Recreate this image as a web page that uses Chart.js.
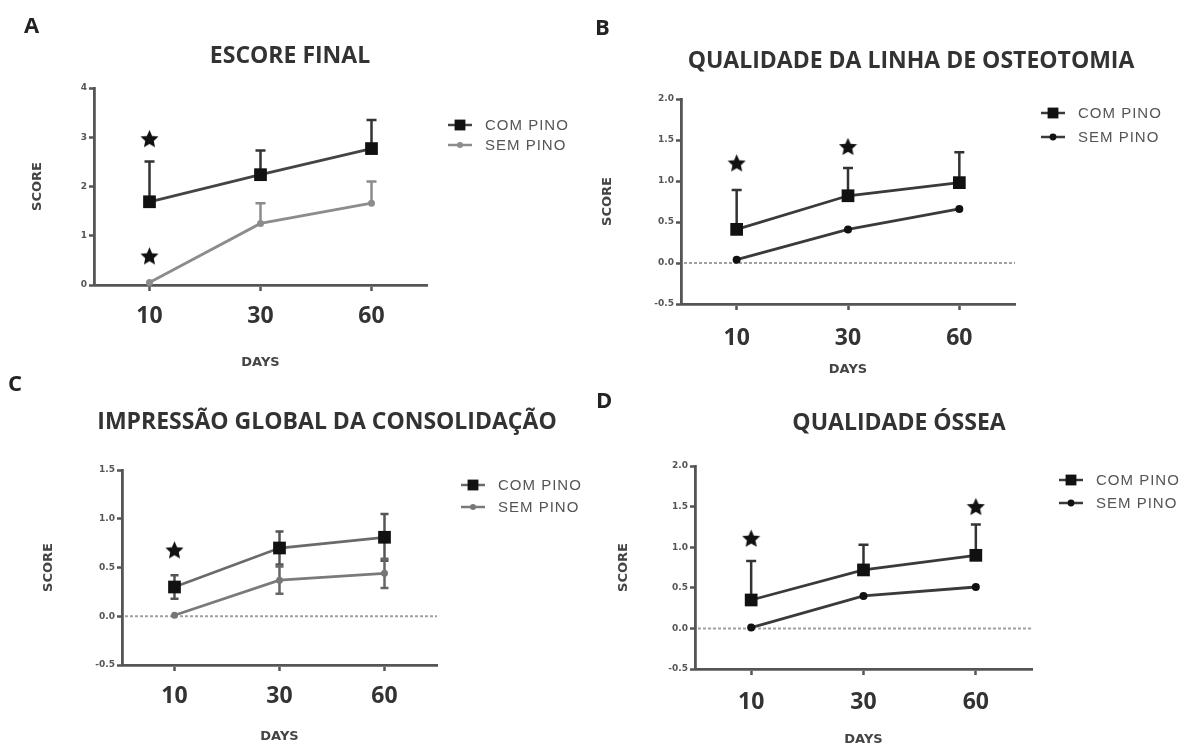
<!DOCTYPE html>
<html>
<head>
<meta charset="utf-8">
<script src="https://cdn.jsdelivr.net/npm/chart.js@4.4.1/dist/chart.umd.min.js"></script>
<style>
  html, body { margin: 0; background: #fff; }
  #wrap { position: relative; width: 1191px; height: 749px; overflow: hidden; }
  #wrap canvas { position: absolute; left: 0; top: 0; }
</style>
</head>
<body>
<div id="wrap">
  <canvas id="cA" width="1191" height="749"></canvas>
  <canvas id="cB" width="1191" height="749"></canvas>
  <canvas id="cC" width="1191" height="749"></canvas>
  <canvas id="cD" width="1191" height="749"></canvas>
</div>
<script>
// dias de avaliação (eixo x)
const days = ['10', '30', '60'];

// A - escore final
const comA = [1.69, 2.24, 2.77];
const comAUp = [0.82, 0.49, 0.58];
const semA = [0.05, 1.25, 1.66];
const semAUp = [0, 0.41, 0.44];
const starsA = [['10', 2.97], ['10', 0.59]];
const ticksA = ['0', '1', '2', '3', '4'];

// B - qualidade da linha de osteotomia
const comB = [0.41, 0.82, 0.98];
const comBUp = [0.48, 0.34, 0.37];
const semB = [0.04, 0.41, 0.66];
const starsB = [['10', 1.22], ['30', 1.42]];
const ticksB = ['-0.5', '0.0', '0.5', '1.0', '1.5', '2.0'];

// C - impressao global da consolidacao (barras para cima e para baixo)
const comC = [0.30, 0.70, 0.81];
const comCErr = [0.12, 0.17, 0.24];
const semC = [0.01, 0.37, 0.44];
const semCErr = [0, 0.14, 0.15];
const starsC = [['10', 0.68]];
const ticksC = ['-0.5', '0.0', '0.5', '1.0', '1.5'];

// D - qualidade ossea
const comD = [0.35, 0.72, 0.90];
const comDUp = [0.48, 0.31, 0.38];
const semD = [0.01, 0.40, 0.51];
const starsD = [['10', 1.11], ['60', 1.50]];
const ticksD = ['-0.5', '0.0', '0.5', '1.0', '1.5', '2.0'];

const seriesNames = ['COM PINO', 'SEM PINO'];

// estrela preenchida usada como pointStyle
let starImage = (size) => {
  const c = document.createElement('canvas');
  c.width = size; c.height = size;
  const g = c.getContext('2d');
  const cx = size / 2, cy = size / 2 + size * 0.04, R = size / 2, r = R * 0.47;
  g.fillStyle = '#111';
  g.beginPath();
  for (let k = 0; k < 10; k++) {
    const ang = -Math.PI / 2 + k * Math.PI / 5;
    const rad = k % 2 ? r : R;
    g.lineTo(cx + rad * Math.cos(ang), cy + rad * Math.sin(ang));
  }
  g.closePath();
  g.fill();
  return c;
};
const star = starImage(19);

const extras = {
  id: 'extras',
  beforeDatasetsDraw(chart, args, o) {
    const {ctx, chartArea: a} = chart;
    const y = chart.scales.y;
    if (o.zeroLine) {
      const py = y.getPixelForValue(0);
      ctx.save();
      ctx.strokeStyle = '#a0a0a0';
      ctx.lineWidth = 2;
      ctx.setLineDash([3, 2]);
      ctx.beginPath();
      ctx.moveTo(a.left + 3, py);
      ctx.lineTo(a.right, py);
      ctx.stroke();
      ctx.restore();
    }
    chart.data.datasets.forEach((ds, di) => {
      if (!ds.errUp) return;
      const meta = chart.getDatasetMeta(di);
      ctx.save();
      ctx.strokeStyle = ds.errColor;
      ctx.lineWidth = 2.5;
      meta.data.forEach((pt, i) => {
        const v = ds.data[i];
        const up = ds.errUp[i] || 0;
        const dn = ds.errDown ? ds.errDown[i] : 0;
        if (!up && !dn) return;
        const y1 = y.getPixelForValue(v + up);
        const y2 = y.getPixelForValue(v - dn);
        ctx.beginPath();
        ctx.moveTo(pt.x, y2);
        ctx.lineTo(pt.x, y1);
        if (up) { ctx.moveTo(pt.x - o.cap, y1); ctx.lineTo(pt.x + o.cap, y1); }
        if (dn) { ctx.moveTo(pt.x - o.cap, y2); ctx.lineTo(pt.x + o.cap, y2); }
        ctx.stroke();
      });
      ctx.restore();
    });
  },
  afterDraw(chart, args, o) {
    const ctx = chart.ctx;
    ctx.save();
    ctx.textBaseline = 'middle';
    ctx.textAlign = 'left';
    ctx.fillStyle = '#222';
    ctx.font = 'bold 22px "Open Sans"';
    ctx.fillText(o.letter, o.letterX, o.letterY);
    ctx.textAlign = 'center';
    ctx.fillStyle = '#333';
    ctx.font = 'bold 23px "Open Sans"';
    ctx.fillText(o.title, o.titleX, o.titleY);
    // legenda: linha + marcador + texto
    const lg = o.legend;
    chart.data.datasets.slice(0, 2).forEach((ds, i) => {
      const yy = lg.y + i * lg.gap;
      ctx.strokeStyle = ds.borderColor;
      ctx.lineWidth = 2.5;
      ctx.beginPath();
      ctx.moveTo(lg.x - 12, yy);
      ctx.lineTo(lg.x + 12, yy);
      ctx.stroke();
      ctx.fillStyle = ds.pointBackgroundColor;
      Chart.helpers.drawPoint(ctx, {pointStyle: ds.pointStyle, radius: ds.pointRadius * 0.85, borderWidth: 0, rotation: 0}, lg.x, yy);
      ctx.fillStyle = '#555';
      ctx.textAlign = 'left';
      ctx.font = '15px "Liberation Sans"';
      ctx.letterSpacing = '1px';
      ctx.fillText(ds.label, lg.x + 25, yy + 1);
      ctx.letterSpacing = '0px';
    });
    ctx.restore();
  }
};

let makeChart = (id, p) => {
  const datasets = [
    {
      label: seriesNames[0], data: p.com, errUp: p.comUp, errDown: p.comDown,
      borderColor: p.comLine, borderWidth: 2.8, errColor: p.comErr,
      pointStyle: 'rect', pointRadius: 9, pointBackgroundColor: '#111', pointBorderWidth: 0
    },
    {
      label: seriesNames[1], data: p.sem, errUp: p.semUp, errDown: p.semDown,
      borderColor: p.semLine, borderWidth: 2.8, errColor: p.semErr,
      pointStyle: 'circle', pointRadius: p.semRadius, pointBackgroundColor: p.semDot, pointBorderWidth: 0
    },
    {
      label: 'stars', data: p.stars.map(s => ({x: s[0], y: s[1]})),
      showLine: false, pointStyle: star, pointRadius: 9
    }
  ];
  return new Chart(document.getElementById(id), {
    type: 'line',
    data: {labels: days, datasets: datasets},
    plugins: [extras],
    options: {
      responsive: false,
      animation: false,
      events: [],
      clip: false,
      layout: {padding: p.pad},
      elements: {line: {tension: 0}},
      plugins: {
        legend: {display: false},
        tooltip: {enabled: false},
        extras: p.extras
      },
      scales: {
        x: {
          type: 'category',
          offset: true,
          afterFit: (s) => { s.height = p.hX; },
          grid: {drawOnChartArea: false, drawTicks: true, tickLength: 6, tickWidth: 2.5, tickColor: '#555'},
          border: {color: '#555', width: 2.8},
          ticks: {color: '#333', padding: p.xPad, font: {family: 'Open Sans', size: 23, weight: 'bold'}},
          title: {display: true, text: 'DAYS', color: '#444', padding: 0,
                  font: {family: 'DejaVu Sans', size: 13, weight: 'bold'}}
        },
        y: {
          min: p.min, max: p.max,
          afterFit: (s) => { s.width = p.wY; },
          grid: {drawOnChartArea: false, drawTicks: true, tickLength: 5, tickWidth: 2.5, tickColor: '#555'},
          border: {color: '#555', width: 2.8},
          ticks: {
            stepSize: p.step, color: '#555', padding: 2,
            font: {family: 'DejaVu Sans', size: 9, weight: 'bold'},
            callback: (v, i) => p.ticks[i]
          },
          title: {display: true, text: 'SCORE', color: '#444', padding: 0,
                  font: {family: 'DejaVu Sans', size: 13, weight: 'bold'}}
        }
      }
    }
  });
};

makeChart('cA', {
  com: comA, comUp: comAUp, sem: semA, semUp: semAUp, stars: starsA, ticks: ticksA,
  min: 0, max: 4, step: 1,
  pad: {left: 30, right: 764, top: 88, bottom: 379}, wY: 64, hX: 85, xPad: 12,
  comLine: '#444', comErr: '#333', semLine: '#8c8c8c', semErr: '#8c8c8c', semDot: '#8c8c8c', semRadius: 3.5,
  extras: {letter: 'A', letterX: 24, letterY: 27, title: 'ESCORE FINAL', titleX: 290, titleY: 56,
           legend: {x: 460, y: 125, gap: 20}, cap: 5, zeroLine: false}
});

makeChart('cB', {
  com: comB, comUp: comBUp, sem: semB, stars: starsB, ticks: ticksB,
  min: -0.5, max: 2, step: 0.5,
  pad: {left: 600, right: 176, top: 99, bottom: 372}, wY: 81, hX: 73, xPad: 15,
  comLine: '#3a3a3a', comErr: '#333', semLine: '#3a3a3a', semErr: '#333', semDot: '#111', semRadius: 4,
  extras: {letter: 'B', letterX: 595, letterY: 29, title: 'QUALIDADE DA LINHA DE OSTEOTOMIA', titleX: 911, titleY: 61,
           legend: {x: 1053, y: 113, gap: 24}, cap: 5, zeroLine: true}
});

makeChart('cC', {
  com: comC, comUp: comCErr, comDown: comCErr, sem: semC, semUp: semCErr, semDown: semCErr, stars: starsC, ticks: ticksC,
  min: -0.5, max: 1.5, step: 0.5,
  pad: {left: 41, right: 754, top: 470, bottom: 5}, wY: 81, hX: 79, xPad: 12,
  comLine: '#6a6a6a', comErr: '#555', semLine: '#7a7a7a', semErr: '#666', semDot: '#777', semRadius: 3.5,
  extras: {letter: 'C', letterX: 8, letterY: 385, title: 'IMPRESSÃO GLOBAL DA CONSOLIDAÇÃO', titleX: 327, titleY: 422,
           legend: {x: 473, y: 485, gap: 22}, cap: 4, zeroLine: true}
});

makeChart('cD', {
  com: comD, comUp: comDUp, sem: semD, stars: starsD, ticks: ticksD,
  min: -0.5, max: 2, step: 0.5,
  pad: {left: 616, right: 159, top: 466, bottom: 2}, wY: 79, hX: 78, xPad: 14,
  comLine: '#3a3a3a', comErr: '#333', semLine: '#3a3a3a', semErr: '#333', semDot: '#111', semRadius: 4,
  extras: {letter: 'D', letterX: 596, letterY: 402, title: 'QUALIDADE ÓSSEA', titleX: 899, titleY: 423,
           legend: {x: 1071, y: 480, gap: 23}, cap: 5, zeroLine: true}
});
</script>
</body>
</html>
